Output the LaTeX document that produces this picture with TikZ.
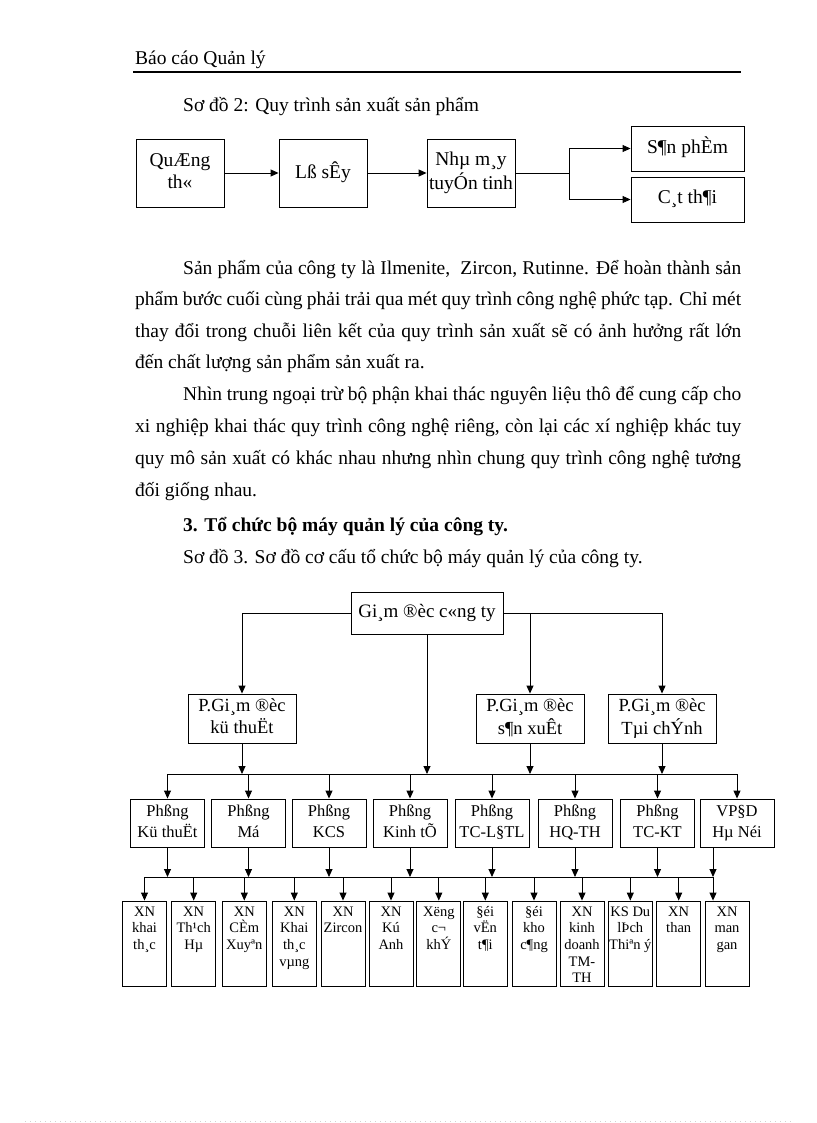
\documentclass[tikz,border=0pt]{standalone}
\usepackage{fontspec}
\setmainfont{Liberation Serif}
\usetikzlibrary{arrows.meta}
\newcommand\fBody{\fontsize{19.5pt}{32pt}\selectfont}
\newcommand\fFlow{\fontsize{19.5pt}{22pt}\selectfont}
\newcommand\fTop{\fontsize{19pt}{22pt}\selectfont}
\newcommand\fPgd{\fontsize{18.5pt}{22pt}\selectfont}
\newcommand\fPh{\fontsize{16.5pt}{21pt}\selectfont}
\newcommand\fSm{\fontsize{14.5pt}{16.7pt}\selectfont}
\newcommand\btx[1]{\parbox[t]{46pt}{\centering #1}}
\newcommand\two[2]{#1\strut\\#2\strut}
\begin{document}
\begin{tikzpicture}[x=1pt,y=-1pt,
  box/.style={draw, line width=0.9pt, inner sep=0pt, align=center},
  arr/.style={line width=0.9pt, -{Triangle[length=8pt,width=7pt]}},
  ln/.style={line width=0.9pt},
  txt/.style={inner sep=0pt, anchor=base west, font=\fBody},
  flow/.style={box, font=\fFlow, minimum width=88pt, minimum height=68pt},
  outb/.style={box, font=\fFlow, minimum width=113pt, minimum height=45pt},
  gbox/.style={box, font=\fTop, minimum width=152pt, minimum height=42pt},
  pgd/.style={box, font=\fPgd, minimum width=108pt, minimum height=49pt},
  ph/.style={box, font=\fPh, minimum width=74pt, minimum height=48pt},
  bb/.style={box, minimum width=44pt, minimum height=85pt},
  bt/.style={inner sep=0pt, anchor=base, font=\fSm},
]
\useasboundingbox (0,0) rectangle (816,1123);
\fill[white] (0,0) rectangle (816,1123);

% header
\node[txt] (hdr) at (135,65) {Báo cáo Quản lý};
\draw[line width=1.6pt] (133,72) -- (741,72);
\node[txt] (t2) at (183,112) {Sơ đồ 2: Quy trình sản xuất sản phẩm};

% flow chart
\node[flow] (q) at (180,173) {\two{QuÆng}{th«}};
\node[flow] (l) at (323,173) {Lß sÊy\strut};
\node[flow] (n) at (471,173) {\two{Nhµ m¸y}{tuyÓn tinh}};
\node[outb] (sp) at (687.5,148.5) {S¶n phÈm\strut};
\node[outb] (ct) at (687.5,199.5) {C¸t th¶i\strut};
\coordinate (br) at (569,173);
\draw[arr] (q) -- (l);
\draw[arr] (l) -- (n);
\draw[ln] (n.east) -- (br);
\draw[arr] (br) |- (sp.west);
\draw[arr] (br) |- (ct.west);

% paragraphs
\node[txt] (p1) at (183,274) {\makebox[558pt][s]{Sản phẩm của công ty là Ilmenite,\ \ Zircon, Rutinne. Để hoàn thành sản}};
\node[txt] (p2) at (135,305.5) {\makebox[606pt][s]{phẩm bước cuối cùng phải trải qua mét quy trình công nghệ phức tạp. Chỉ mét}};
\node[txt] (p3) at (135,337) {\makebox[606pt][s]{thay đổi trong chuỗi liên kết của quy trình sản xuất sẽ có ảnh hưởng rất lớn}};
\node[txt] (p4) at (135,368.5) {đến chất lượng sản phẩm sản xuất ra.};
\node[txt] (p5) at (183,400) {\makebox[558pt][s]{Nhìn trung ngoại trừ bộ phận khai thác nguyên liệu thô để cung cấp cho}};
\node[txt] (p6) at (135,432) {\makebox[606pt][s]{xi nghiệp khai thác quy trình công nghệ riêng, còn lại các xí nghiệp khác tuy}};
\node[txt] (p7) at (135,464.5) {\makebox[606pt][s]{quy mô sản xuất có khác nhau nhưng nhìn chung quy trình công nghệ tương}};
\node[txt] (p8) at (135,496.5) {đối giống nhau.};
\node[txt] (p9) at (183,531) {\bfseries 3. Tổ chức bộ máy quản lý của công ty.};
\node[txt] (p10) at (183,563) {Sơ đồ 3. Sơ đồ cơ cấu tổ chức bộ máy quản lý của công ty.};

% org chart
\node[gbox] (g) at (427,613) {Gi¸m ®èc c«ng ty\strut};
\node[pgd] (pkt) at (242,718.5) {\two{P.Gi¸m ®èc}{kü thuËt}};
\node[pgd] (psx) at (530,718.5) {\two{P.Gi¸m ®èc}{s¶n xuÊt}};
\node[pgd] (ptc) at (662,718.5) {\two{P.Gi¸m ®èc}{Tµi chÝnh}};

\node[ph] (ph1) at (167.5,823) {\two{Phßng}{Kü thuËt}};
\node[ph] (ph2) at (248.5,823) {\two{Phßng}{Má}};
\node[ph] (ph3) at (329,823) {\two{Phßng}{KCS}};
\node[ph] (ph4) at (410,823) {\two{Phßng}{Kinh tÕ}};
\node[ph] (ph5) at (492,823) {\two{Phßng}{TC-L§TL}};
\node[ph] (ph6) at (575,823) {\two{Phßng}{HQ-TH}};
\node[ph] (ph7) at (657.5,823) {\two{Phßng}{TC-KT}};
\node[ph] (ph8) at (737,823) {\two{VP§D}{Hµ Néi}};

\node[bb] (b1) at (144.5,943.5) {};
\node[bb] (b2) at (193.7,943.5) {};
\node[bb] (b3) at (244.3,943.5) {};
\node[bb] (b4) at (294.3,943.5) {};
\node[bb] (b5) at (343,943.5) {};
\node[bb] (b6) at (391,943.5) {};
\node[bb] (b7) at (438.8,943.5) {};
\node[bb] (b8) at (485.3,943.5) {};
\node[bb] (b9) at (534,943.5) {};
\node[bb] (b10) at (582,943.5) {};
\node[bb] (b11) at (630.3,943.5) {};
\node[bb] (b12) at (678.7,943.5) {};
\node[bb] (b13) at (727,943.5) {};

\node[bt] (t1) at (144.5,916) {\btx{XN\\khai\\th¸c}};
\node[bt] (t2b) at (193.7,916) {\btx{XN\\Th¹ch\\Hµ}};
\node[bt] (t3) at (244.3,916) {\btx{XN\\CÈm\\Xuyªn}};
\node[bt] (t4) at (294.3,916) {\btx{XN\\Khai\\th¸c\\vµng}};
\node[bt] (t5) at (343,916) {\btx{XN\\Zircon}};
\node[bt] (t6) at (391,916) {\btx{XN\\Kú\\Anh}};
\node[bt] (t7) at (438.8,916) {\btx{Xëng\\c¬\\khÝ}};
\node[bt] (t8) at (485.3,916) {\btx{§éi\\vËn\\t¶i}};
\node[bt] (t9) at (534,916) {\btx{§éi\\kho\\c¶ng}};
\node[bt] (t10) at (582,916) {\btx{XN\\kinh\\doanh\\TM-\\TH}};
\node[bt] (t11) at (630.3,916) {\btx{KS Du\\lÞch\\Thiªn ý}};
\node[bt] (t12) at (678.7,916) {\btx{XN\\than}};
\node[bt] (t13) at (727,916) {\btx{XN\\man\\gan}};

% connectors
\draw[arr] (g.west) -| (pkt.north);
\draw[arr] (g.east) -| (ptc.north);
\draw[arr] (g.east -| psx.north) -- (psx.north);
\coordinate (busA) at (0,774);
\coordinate (busB) at (0,877);
\coordinate (bEnd) at (713,877);
\draw[ln] (busA -| ph1.north) -- (busA -| ph8.north);
\foreach \s in {pkt,g,psx,ptc} \draw[arr] (\s.south) -- (\s.south |- busA);
\foreach \i in {1,...,8} \draw[arr] (busA -| ph\i.north) -- (ph\i.north);
\draw[ln] (busB -| b1.north) -- (bEnd);
\foreach \i in {1,...,7} \draw[arr] (ph\i.south) -- (ph\i.south |- busB);
\draw[arr] (bEnd |- ph8.south) -- (bEnd);
\foreach \i in {1,...,12} \draw[arr] (busB -| b\i.north) -- (b\i.north);
\draw[arr] (bEnd) -- (bEnd |- b13.north);

% faint page edge
\draw[gray!35, line width=0.6pt, dash pattern=on 1pt off 4pt] (25,1121.5) -- (792,1121.5);
\end{tikzpicture}
\end{document}
